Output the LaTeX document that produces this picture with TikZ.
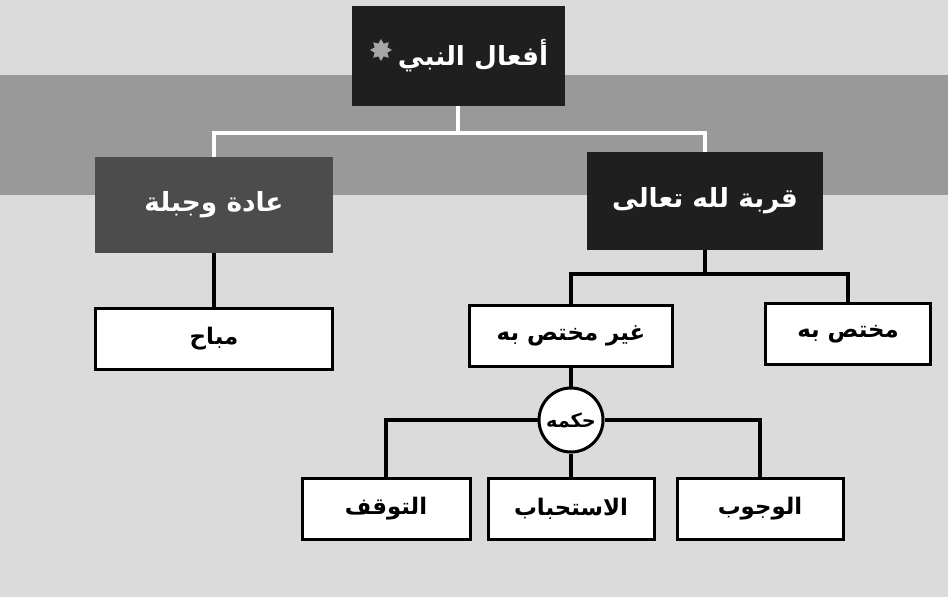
\documentclass[tikz,border=0pt]{standalone}
\usepackage{fontspec}
\newfontfamily\arabicfont[Script=Arabic]{DejaVu Sans}
\TeXXeTstate=1
\usetikzlibrary{positioning,shapes.geometric}
\newcommand\artxt[1]{{\arabicfont\bfseries\beginR #1\endR}}
\definecolor{pagegray}{gray}{0.86}
\definecolor{bandgray}{gray}{0.60}
\begin{document}
\begin{tikzpicture}
        [x=0.2mm, y=-0.2mm,
        darkbox/.style={rectangle,fill=black!88,text=white,font=\fontsize{15}{18}\selectfont},
        greybox/.style={rectangle,fill=black!70,text=white,font=\fontsize{15}{18}\selectfont},
        whitebox/.style={rectangle,draw=black,fill=white,line width=0.6mm,font=\fontsize{13}{16}\selectfont,minimum height=12.2mm},
        rulecircle/.style={circle,draw=black,fill=white,line width=0.6mm,minimum size=12.8mm,inner sep=0pt,font=\fontsize{11}{13}\selectfont},
        ornament/.style={star,star points=8,star point ratio=1.6,fill=black!35,minimum size=4.4mm,inner sep=0pt},
        wline/.style={white,line width=0.9mm},
        bline/.style={black,line width=0.8mm}]
        \useasboundingbox (0,0) rectangle (948,597);
        \fill[pagegray] (0,0) rectangle (948,597);
        \fill[bandgray] (0,75) rectangle (948,195);
        \node (top) at (458,56) [darkbox, minimum width=42.6mm, minimum height=20mm] {\artxt{أفعال النبي\hspace{6mm}}};
        \node (salutation) at (381,50) [ornament] {};
        \node (habit) at (214,205) [greybox, minimum width=47.4mm, minimum height=19mm] {\artxt{عادة وجبلة}};
        \node (devotion) at (705,201) [darkbox, minimum width=47.2mm, minimum height=19.6mm] {\artxt{قربة لله تعالى}};
        \node (mubah) at (214,339) [whitebox, minimum width=47.4mm] {\artxt{مباح}};
        \node (general) at (571,336) [whitebox, minimum width=40.6mm] {\artxt{غير مختص به}};
        \node (special) at (848,334) [whitebox, minimum width=33mm] {\artxt{مختص به}};
        \node (ruling) at (571,420) [rulecircle] {\artxt{حكمه}};
        \node (pause) at (386,509) [whitebox, minimum width=33.6mm] {\artxt{التوقف}};
        \node (recommended) at (571,509) [whitebox, minimum width=33.2mm] {\artxt{الاستحباب}};
        \node (obligatory) at (760,509) [whitebox, minimum width=33.2mm] {\artxt{الوجوب}};
        \coordinate (tj) at (458,133);
        \coordinate (rj) at (705,274);
        \draw[wline] (top.south) -- (tj);
        \draw[wline] (tj) -| (habit.north);
        \draw[wline] (tj) -| (devotion.north);
        \draw[bline] (habit.south) -- (mubah.north);
        \draw[bline] (devotion.south) -- (rj);
        \draw[bline] (rj) -| (general.north);
        \draw[bline] (rj) -| (special.north);
        \draw[bline] (general.south) -- (ruling.north);
        \draw[bline] (ruling.west) -| (pause.north);
        \draw[bline] (ruling.east) -| (obligatory.north);
        \draw[bline] (ruling.south) -- (recommended.north);
      \end{tikzpicture}
\end{document}
